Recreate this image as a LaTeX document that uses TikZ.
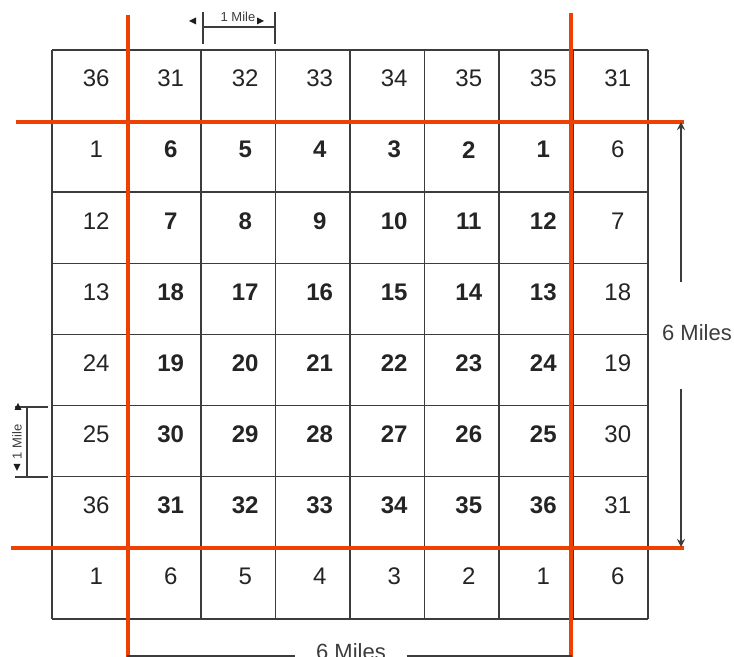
\documentclass[tikz,border=0pt]{standalone}
\usepackage{fontspec}
\setmainfont{Liberation Sans}
\usetikzlibrary{arrows.meta, positioning}
\definecolor{township}{RGB}{238,64,0}
\definecolor{inkgray}{RGB}{60,60,60}

\begin{document}
\begin{tikzpicture}[x=0.5pt, y=-0.5pt, >={Stealth[length=4pt,width=4pt]},
  secnum/.style={font=\fontsize{12}{14}\selectfont, text=inkgray!60!black, xshift=3.5pt, yshift=3.5pt},
  gridline/.style={line width=0.75pt, draw=inkgray},
  rangeline/.style={line width=2.3pt, draw=township},
  dimline/.style={line width=0.6pt, draw=inkgray},
  dimtext/.style={font=\fontsize{11}{13}\selectfont, text=inkgray},
  smalltext/.style={font=\fontsize{6.5}{7}\selectfont, text=inkgray, inner sep=0pt}]
  \useasboundingbox (0,0) rectangle (734,657);

  % Section grid
  \foreach \i in {0,...,8} {
    \draw[gridline] (52+\i*74.5,50) -- (52+\i*74.5,619);
    \draw[gridline] (52,50+\i*71.125) -- (648,50+\i*71.125);
  }

  % Section numbers (inner township in bold)
  \foreach \row [count=\r] in {{36,31,32,33,34,35,35,31},
                               {1,6,5,4,3,2,1,6},
                               {12,7,8,9,10,11,12,7},
                               {13,18,17,16,15,14,13,18},
                               {24,19,20,21,22,23,24,19},
                               {25,30,29,28,27,26,25,30},
                               {36,31,32,33,34,35,36,31},
                               {1,6,5,4,3,2,1,6}} {
    \foreach \n [count=\c] in \row {
      \pgfmathtruncatemacro\isin{and(\r>1,\r<8)*and(\c>1,\c<8)}
      \ifnum\isin=1 \let\wt\bfseries \else \let\wt\relax \fi
      \node[secnum] (sec-\r-\c) at (52+\c*74.5-37.25, 50+\r*71.125-35.56) {\wt\n};
    }
  }

  % Township boundaries
  \draw[rangeline] (128,15) -- (128,662);
  \draw[rangeline] (571,13) -- (571,662);
  \draw[rangeline] (16,122) -- (684,122);
  \draw[rangeline] (11,548) -- (684,548);

  % 1 Mile (top)
  \coordinate (mt1) at (203,12);
  \coordinate (mb1) at (203,44);
  \coordinate (mt2) at (275,12);
  \coordinate (mb2) at (275,44);
  \draw[dimline] (mt1) -- (mb1);
  \draw[dimline] (mt2) -- (mb2);
  \draw[dimline] (203,27) -- (275,27);
  \node[smalltext] (mile-top) at (238,17) {1 Mile};
  \fill[inkgray!50!black] (189,21) -- ++(7,-3.5) -- ++(0,7) -- cycle;
  \fill[inkgray!50!black] (264,21) -- ++(-7,-3.5) -- ++(0,7) -- cycle;

  % 1 Mile (left)
  \draw[dimline] (15,407) -- (48,407);
  \draw[dimline] (15,477) -- (48,477);
  \draw[dimline] (27,407) -- (27,477);
  \node[smalltext, rotate=90] (mile-left) at (17,442) {1 Mile};
  \fill[inkgray!50!black] (18,403) -- ++(-3.5,7) -- ++(7,0) -- cycle;
  \fill[inkgray!50!black] (17,471) -- ++(-3.5,-7) -- ++(7,0) -- cycle;

  % 6 Miles (right)
  \coordinate (rtop) at (681,122);
  \coordinate (rtopend) at (681,282);
  \coordinate (rbotend) at (681,389);
  \coordinate (rbot) at (681,547);
  \node[dimtext] (miles-right) at (697,333) {6 Miles};
  \draw[dimline, ->] (rtopend) -- (rtop);
  \draw[dimline, ->] (rbotend) -- (rbot);

  % 6 Miles (bottom)
  \coordinate (bl) at (127,656);
  \coordinate (blend) at (295,656);
  \coordinate (brend) at (407,656);
  \coordinate (br) at (572,656);
  \node[dimtext, anchor=base] (miles-bottom) at (351,660) {6 Miles};
  \draw[dimline] (bl) -- (blend);
  \draw[dimline] (brend) -- (br);
\end{tikzpicture}
\end{document}
